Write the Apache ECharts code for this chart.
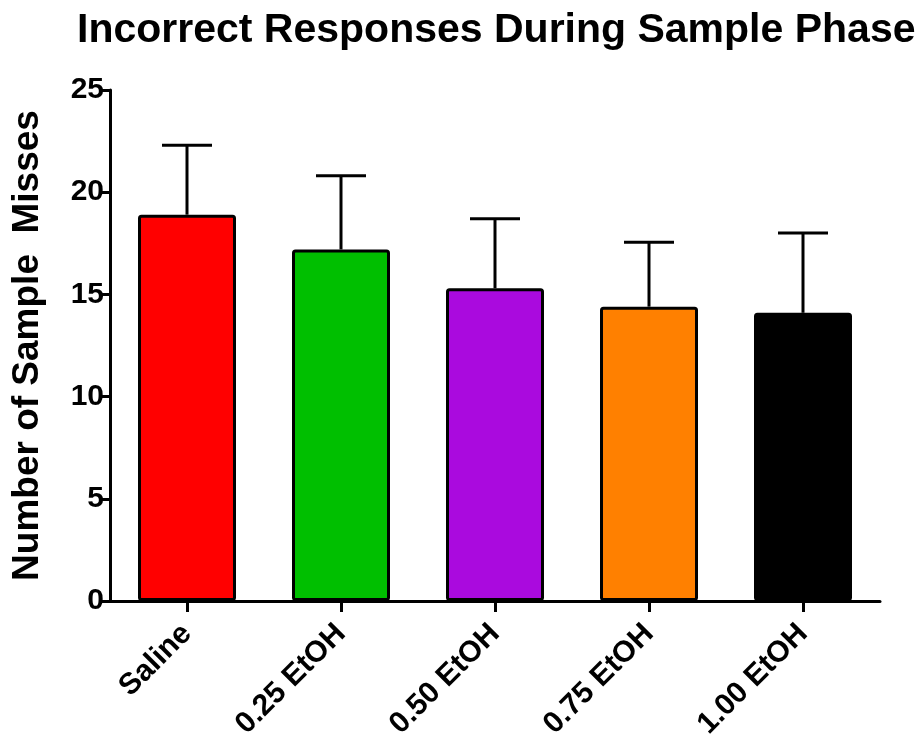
<!DOCTYPE html>
<html>
<head>
<meta charset="utf-8">
<script src="https://cdn.jsdelivr.net/npm/echarts@6/dist/echarts.min.js"></script>
<style>
  html, body { margin: 0; padding: 0; background: #fff; }
  #chart { width: 918px; height: 742px; }
</style>
</head>
<body>
<div id="chart"></div>
<script>
// Group labels and measurements
const groups = ['Saline', '0.25 EtOH', '0.50 EtOH', '0.75 EtOH', '1.00 EtOH'];
const meanMisses = [18.9, 17.2, 15.3, 14.4, 14.1];
const upperError = [22.3, 20.8, 18.7, 17.55, 18.0];
const barColors = ['#ff0000', '#00bf00', '#aa0ade', '#ff8000', '#000000'];
const yTicks = [0, 5, 10, 15, 20, 25];

const FONT = '"Liberation Sans", Arial, sans-serif';

const chart = echarts.init(document.getElementById('chart'), null, { renderer: 'canvas' });

chart.setOption({
  animation: false,
  backgroundColor: '#ffffff',
  title: {
    text: 'Incorrect Responses During Sample Phase',
    left: 72,
    top: 5,
    textStyle: { fontFamily: FONT, fontWeight: 'bold', fontSize: 41, color: '#000' }
  },
  grid: { left: 110, right: 38, top: 90, bottom: 141, containLabel: false },
  xAxis: {
    type: 'category',
    data: groups,
    axisLine: { show: true, lineStyle: { color: '#000', width: 3 } },
    axisTick: { show: true, alignWithLabel: true, length: 11, lineStyle: { color: '#000', width: 3 } },
    axisLabel: {
      rotate: 45, margin: 28, color: '#000',
      fontFamily: FONT, fontWeight: 'bold', fontSize: 30
    }
  },
  yAxis: {
    type: 'value',
    min: yTicks[0],
    max: yTicks[yTicks.length - 1],
    interval: yTicks[1] - yTicks[0],
    name: 'Number of Sample  Misses',
    nameLocation: 'middle',
    nameGap: 64,
    nameTextStyle: { fontFamily: FONT, fontWeight: 'bold', fontSize: 37, color: '#000' },
    axisLine: { show: true, lineStyle: { color: '#000', width: 3 } },
    axisTick: { show: true, length: 10, lineStyle: { color: '#000', width: 3 } },
    axisLabel: { margin: 6, color: '#000', fontFamily: FONT, fontWeight: 'bold', fontSize: 30 },
    splitLine: { show: false }
  },
  series: [
    {
      type: 'custom',
      z: 1,
      data: groups.map((g, i) => [i, meanMisses[i], upperError[i]]),
      renderItem: function (params, api) {
        const idx = api.value(0);
        const base = api.coord([idx, api.value(1)]);
        const top = api.coord([idx, api.value(2)]);
        const capHalf = 25;
        return {
          type: 'group',
          children: [
            { type: 'line', shape: { x1: base[0], y1: base[1], x2: top[0], y2: top[1] },
              style: { stroke: '#000', lineWidth: 3 } },
            { type: 'line', shape: { x1: top[0] - capHalf, y1: top[1], x2: top[0] + capHalf, y2: top[1] },
              style: { stroke: '#000', lineWidth: 3 } }
          ]
        };
      }
    },
    {
      type: 'bar',
      z: 2,
      barWidth: 98,
      data: meanMisses.map((v, i) => ({
        value: v,
        itemStyle: { color: barColors[i], borderColor: '#000', borderWidth: 3, borderRadius: 2 }
      }))
    }
  ]
});
</script>
</body>
</html>
